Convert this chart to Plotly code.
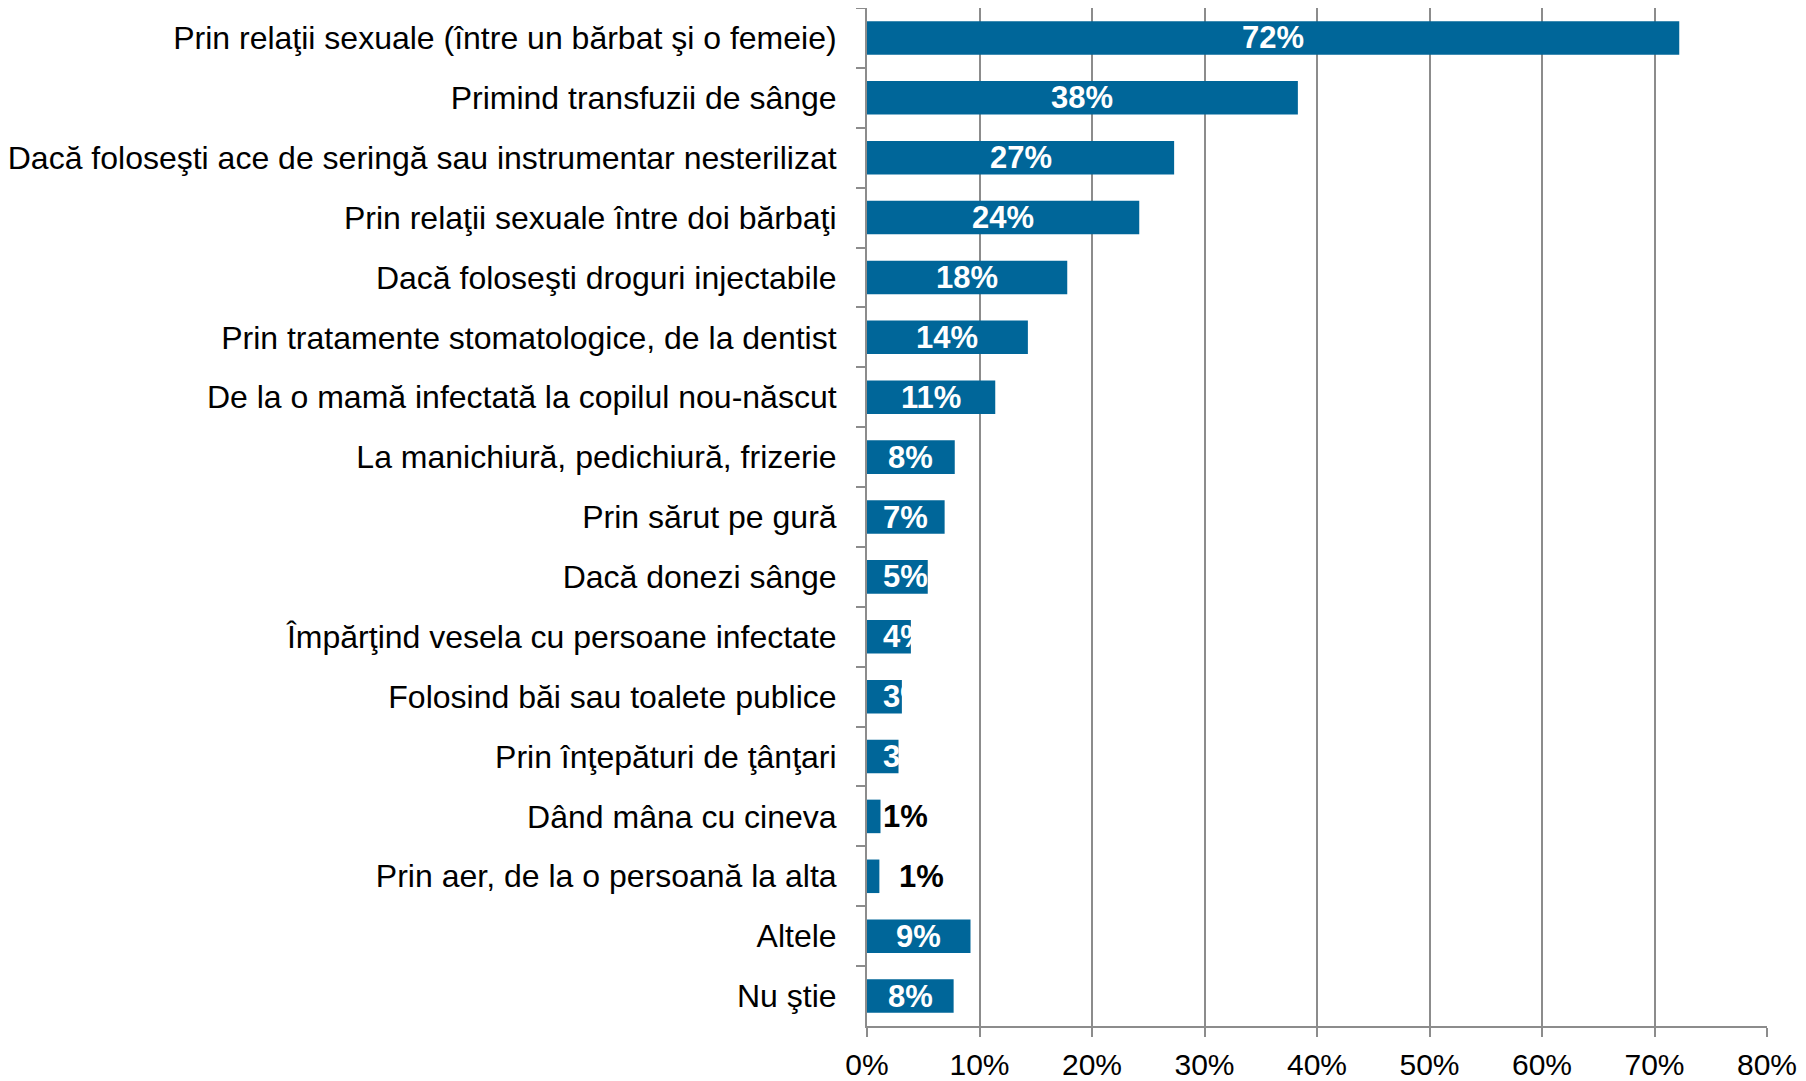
import plotly.graph_objects as go

categories = [
    "Prin relaţii sexuale (între un bărbat şi o femeie)",
    "Primind transfuzii de sânge",
    "Dacă foloseşti ace de seringă sau instrumentar nesterilizat",
    "Prin relaţii sexuale între doi bărbaţi",
    "Dacă foloseşti droguri injectabile",
    "Prin tratamente stomatologice, de la dentist",
    "De la o mamă infectată la copilul nou-născut",
    "La manichiură, pedichiură, frizerie",
    "Prin sărut pe gură",
    "Dacă donezi sânge",
    "Împărţind vesela cu persoane infectate",
    "Folosind băi sau toalete publice",
    "Prin înţepături de ţânţari",
    "Dând mâna cu cineva",
    "Prin aer, de la o persoană la alta",
    "Altele",
    "Nu ştie",
]
values = [72.2, 38.3, 27.3, 24.2, 17.8, 14.3, 11.4, 7.8, 6.9, 5.4, 3.9, 3.1, 2.8, 1.2, 1.1, 9.2, 7.7]
value_labels = ["72%", "38%", "27%", "24%", "18%", "14%", "11%", "8%", "7%", "5%", "4%", "3%", "3%", "1%", "1%", "9%", "8%"]
x_ticks = [0, 10, 20, 30, 40, 50, 60, 70, 80]
x_tick_labels = ["0%", "10%", "20%", "30%", "40%", "50%", "60%", "70%", "80%"]

BAR = "#006699"
GRID = "#8c8c8c"
FONT = "Liberation Sans, Arial, sans-serif"

fig = go.Figure()
fig.add_trace(go.Bar(
    y=categories, x=values, orientation="h",
    marker=dict(color=BAR, line=dict(width=0)),
    hoverinfo="skip",
))

annotations = []
for i, (c, v, t) in enumerate(zip(categories, values, value_labels)):
    outside = v < 2
    cx = max(v / 2, 3.4)
    if outside and i == 14:
        cx = 4.8
    annotations.append(dict(
        x=cx, y=c, text="<b>%s</b>" % t, showarrow=False,
        xanchor="center", yanchor="middle",
        font=dict(family=FONT, size=31, color="black" if outside else "white"),
    ))

fig.update_layout(
    width=1798, height=1073,
    margin=dict(l=853, r=39, t=0, b=54),
    paper_bgcolor="white", plot_bgcolor="white",
    bargap=0.44,
    showlegend=False,
    annotations=annotations,
    font=dict(family=FONT, size=30, color="black"),
    xaxis=dict(
        range=[0, 80], tickvals=x_ticks, ticktext=x_tick_labels,
        showgrid=True, gridcolor=GRID, gridwidth=1.5,
        showline=True, linecolor=GRID, linewidth=2,
        ticks="outside", ticklen=9, tickcolor=GRID, tickwidth=1.5,
        ticklabelstandoff=2,
        zeroline=False, tickfont=dict(size=30, color="black", family=FONT),
        fixedrange=True,
    ),
    yaxis=dict(
        categoryorder="array", categoryarray=categories, autorange="reversed",
        showline=True, linecolor=GRID, linewidth=2,
        ticks="outside", ticklen=9, tickcolor=GRID, tickwidth=1.5,
        tickson="boundaries", showgrid=False, ticklabelstandoff=22,
        tickfont=dict(size=32, color="black", family=FONT),
        fixedrange=True,
    ),
)

fig.write_html("out.html")
